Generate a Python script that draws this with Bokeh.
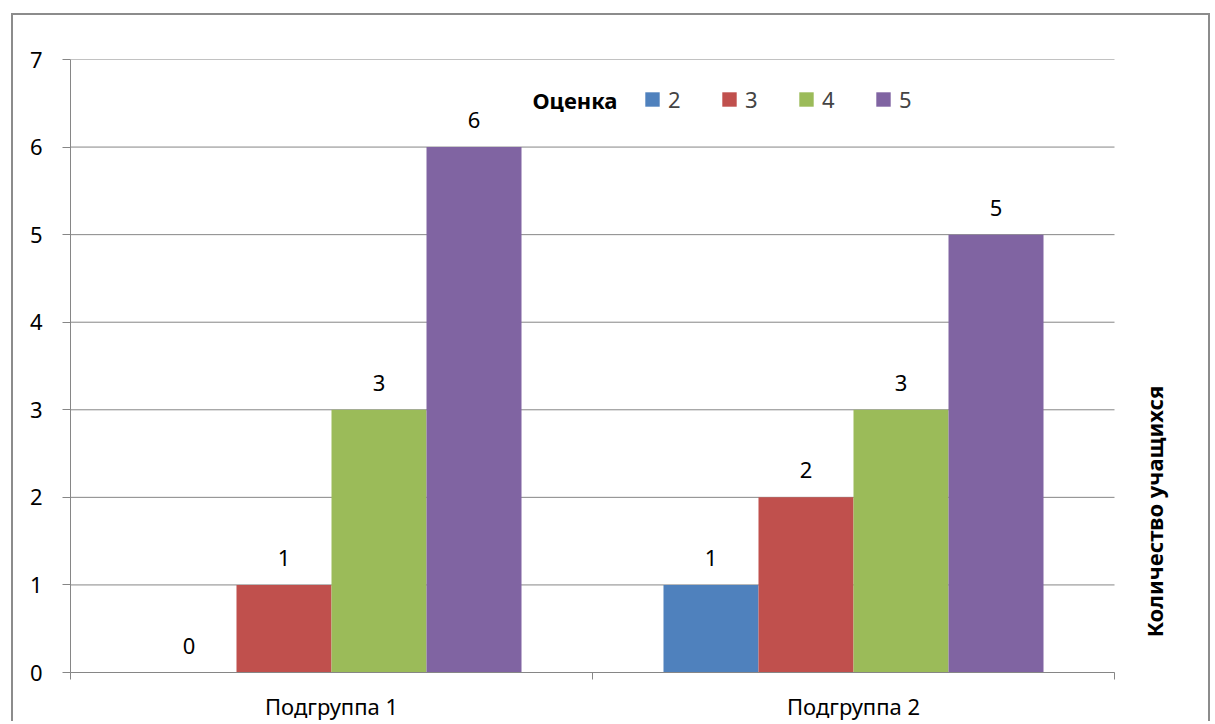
import math
from bokeh.plotting import figure
from bokeh.models import (ColumnDataSource, FixedTicker, LabelSet, Legend, LegendItem,
                          Label, Range1d)
from bokeh.core.properties import value
from bokeh.embed import file_html
from bokeh.resources import INLINE

# ---- data ----
categories = ["Подгруппа 1", "Подгруппа 2"]
grades = ["2", "3", "4", "5"]
grade2 = [0, 1]
grade3 = [1, 2]
grade4 = [3, 3]
grade5 = [6, 5]
series_values = [grade2, grade3, grade4, grade5]
colors = ["#4F81BD", "#C0504D", "#9BBB59", "#8064A2"]
y_ticks = [0, 1, 2, 3, 4, 5, 6, 7]
legend_title = "Оценка"
y_title = "Количество учащихся"

FONT = "Noto Sans"
FS = "22px"
GRID = "#868686"

n_cat = len(categories)
# plot area spans 1044 px of a 1142 px frame; the remaining strip holds the vertical title
x_end = n_cat * 1142 / 1044

p = figure(width=1199, height=708, output_backend="svg", toolbar_location=None,
           x_range=Range1d(0, x_end), y_range=Range1d(0, 7),
           min_border_left=57, min_border_top=44, min_border_right=0, min_border_bottom=49)
p.styles = {"margin": "13px 0px 0px 11px", "border-style": "solid",
            "border-color": "#8c8c8c", "border-width": "2px 2px 0px 2px"}
p.outline_line_color = None
p.background_fill_color = "white"
p.border_fill_color = "white"
p.xgrid.grid_line_color = None
p.ygrid.grid_line_color = None

# horizontal gridlines, limited to the category span
p.segment(x0=[0] * len(y_ticks), x1=[n_cat] * len(y_ticks), y0=y_ticks, y1=y_ticks,
          line_color=GRID, line_width=1)

bar_w = 0.182
group_centers = [i + 0.5 for i in range(n_cat)]
renderers = []
for si, (g, vals, col) in enumerate(zip(grades, series_values, colors)):
    xs = [c + (si - 1.5) * bar_w for c in group_centers]
    src = ColumnDataSource(dict(x=xs, top=vals, lbl=[str(v) for v in vals]))
    r = p.vbar(x="x", top="top", bottom=0, width=bar_w, source=src,
               fill_color=col, line_color=None)
    renderers.append(r)
    p.add_layout(LabelSet(x="x", y="top", text="lbl", source=src, text_align="center",
                          text_baseline="alphabetic", y_offset=19,
                          text_font=value(FONT), text_font_size=FS, text_color="#000000"))

# axes
xa = p.xaxis[0]
xa.bounds = (0, n_cat)
xa.ticker = FixedTicker(ticks=group_centers, minor_ticks=list(range(n_cat + 1)))
xa.major_label_overrides = {c: n for c, n in zip(group_centers, categories)}
xa.major_tick_line_color = None
xa.major_tick_out = 0
xa.major_tick_in = 0
xa.minor_tick_out = 7
xa.minor_tick_in = 0
xa.minor_tick_line_color = GRID
xa.axis_line_color = GRID
xa.major_label_standoff = 11
xa.major_label_text_font = FONT
xa.major_label_text_font_size = FS
xa.major_label_text_color = "#000000"

ya = p.yaxis[0]
ya.ticker = FixedTicker(ticks=y_ticks)
ya.major_tick_out = 8
ya.major_tick_in = 0
ya.major_tick_line_color = GRID
ya.minor_tick_line_color = None
ya.axis_line_color = GRID
ya.major_label_standoff = 20
ya.major_label_text_font = FONT
ya.major_label_text_font_size = FS
ya.major_label_text_color = "#000000"

legend = Legend(items=[LegendItem(label=g, renderers=[r]) for g, r in zip(grades, renderers)],
                orientation="horizontal", location=(573, 558),
                label_text_font=FONT, label_text_font_size=FS,
                glyph_width=18, glyph_height=18, label_standoff=7, spacing=32,
                padding=0, margin=0, border_line_color=None, background_fill_alpha=0)
p.add_layout(legend)

p.add_layout(Label(x=462, y=573, x_units="screen", y_units="screen", text=legend_title,
                   text_align="left", text_baseline="middle",
                   text_font=FONT, text_font_style="bold", text_font_size=FS,
                   text_color="#000000"))

p.add_layout(Label(x=1083, y=161, x_units="screen", y_units="screen", text=y_title,
                   angle=math.pi / 2, text_align="center", text_baseline="middle",
                   text_font=FONT, text_font_style="bold", text_font_size=FS,
                   text_color="#000000"))

open("out.html", "w").write(file_html(p, INLINE))
